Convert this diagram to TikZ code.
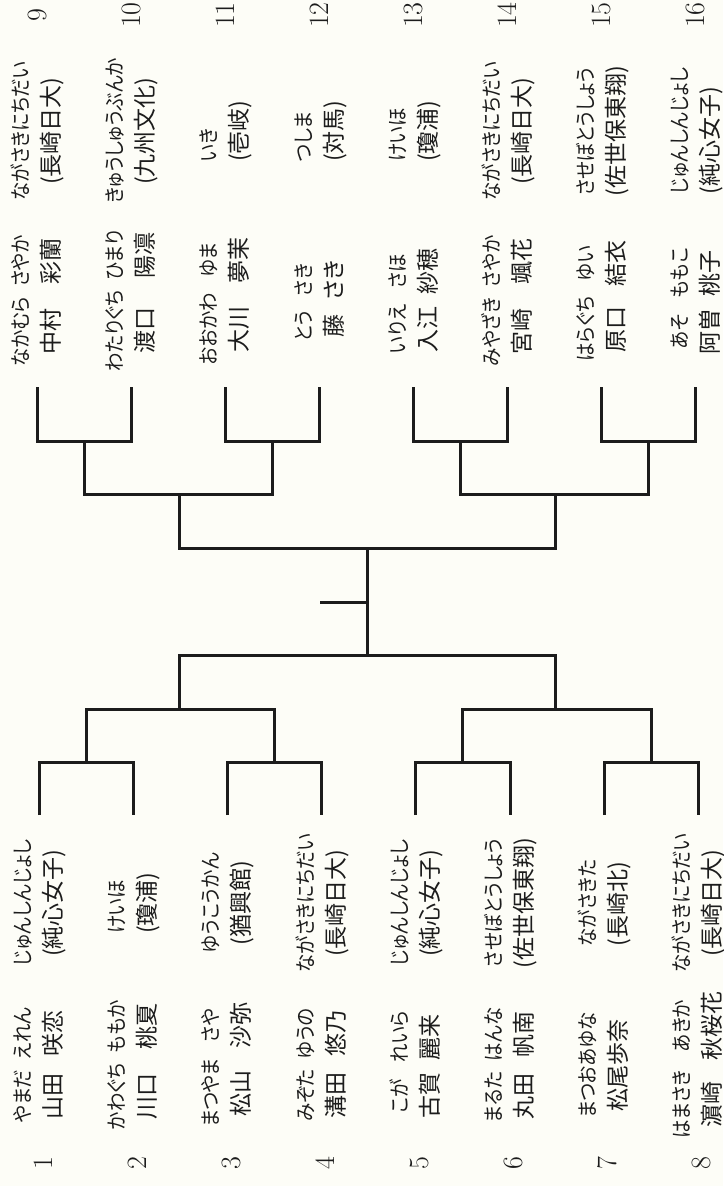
\documentclass[tikz,border=0pt]{standalone}
\usepackage{fontspec}
\usepackage{tikz}
\usetikzlibrary{positioning,calc}
\newfontfamily\jp[RawFeature=+palt]{Noto Sans CJK JP}
\newfontfamily\jpk[RawFeature=+palt,FakeStretch=0.88]{Noto Sans CJK JP}
\definecolor{paper}{RGB}{253,253,247}
\definecolor{ink}{RGB}{28,28,28}
\newcommand{\kj}[1]{{\jp\fontsize{23}{31}\selectfont #1}}
\newcommand{\rb}[3][c]{\begin{tabular}{@{}#1@{}}#2\\\kj{#3}\end{tabular}}
\newcommand{\nm}[4]{\begin{tabular}{@{}c@{\hspace{10pt}}c@{}}#1&#2\\\kj{#3}&\kj{#4}\end{tabular}}

\begin{document}
\begin{tikzpicture}[x=1pt,y=-1pt,node distance=94.1pt,on grid,
  num/.style={rotate=90,inner sep=0pt,text=ink,font=\fontsize{28}{32}\selectfont},
  school/.style={rotate=90,inner sep=0pt,text=ink,font=\jpk\fontsize{21}{31}\selectfont},
  player/.style={rotate=90,inner sep=0pt,text=ink,font=\jpk\fontsize{21}{31}\selectfont},
  bracket/.style={draw=ink,line width=3pt}]
\useasboundingbox (0,0) rectangle (723,1186);
\fill[paper] (0,0) rectangle (723,1186);
% upper half: 9-16
\node[num]                (n9)  at (37,15) {9};
\node[num,right=of n9]    (n10) {10};
\node[num,right=of n10]   (n11) {11};
\node[num,right=of n11]   (n12) {12};
\node[num,right=of n12]   (n13) {13};
\node[num,right=of n13]   (n14) {14};
\node[num,right=of n14]   (n15) {15};
\node[num,right=of n15]   (n16) {16};
%
\node[school]             (s9)  at (38,131) {\rb{ながさきにちだい}{(長崎日大)}};
\node[school,right=of s9]  (s10) {\rb{きゅうしゅうぶんか}{(九州文化)}};
\node[school,right=of s10] (s11) {\rb[l]{いき}{(壱岐)}};
\node[school,right=of s11] (s12) {\rb[l]{つしま}{(対馬)}};
\node[school,right=of s12] (s13) {\rb[l]{けいほ}{(瓊浦)}};
\node[school,right=of s13] (s14) {\rb{ながさきにちだい}{(長崎日大)}};
\node[school,right=of s14] (s15) {\rb[l]{させぼとうしょう}{(佐世保東翔)}};
\node[school,right=of s15] (s16) {\rb[l]{じゅんしんじょし}{(純心女子)}};
%
\node[player]             (p9)  at (38,301) {\nm{なかむら}{さやか}{中村}{彩蘭}};
\node[player,right=of p9]  (p10) {\nm{わたりぐち}{ひまり}{渡口}{陽凛}};
\node[player,right=of p10] (p11) {\nm{おおかわ}{ゆま}{大川}{夢茉}};
\node[player,right=of p11] (p12) {\nm{とう}{さき}{藤}{さき}};
\node[player,right=of p12] (p13) {\nm{いりえ}{さほ}{入江}{紗穂}};
\node[player,right=of p13] (p14) {\nm{みやざき}{さやか}{宮崎}{颯花}};
\node[player,right=of p14] (p15) {\nm{はらぐち}{ゆい}{原口}{結衣}};
\node[player,right=of p15] (p16) {\nm{あそ}{ももこ}{阿曽}{桃子}};
% lower half: 1-8
\node[school]             (s1)  at (40,903) {\rb{じゅんしんじょし}{(純心女子)}};
\node[school,right=of s1]  (s2)  {\rb[l]{けいほ}{(瓊浦)}};
\node[school,right=of s2]  (s3)  {\rb{ゆうこうかん}{(猶興館)}};
\node[school,right=of s3]  (s4)  {\rb{ながさきにちだい}{(長崎日大)}};
\node[school,right=of s4]  (s5)  {\rb{じゅんしんじょし}{(純心女子)}};
\node[school,right=of s5]  (s6)  {\rb{させぼとうしょう}{(佐世保東翔)}};
\node[school,right=of s6]  (s7)  {\rb[l]{ながさきた}{(長崎北)}};
\node[school,right=of s7]  (s8)  {\rb{ながさきにちだい}{(長崎日大)}};
%
\node[player]             (p1)  at (40,1065) {\nm{やまだ}{えれん}{山田}{咲恋}};
\node[player,right=of p1]  (p2)  {\nm{かわぐち}{ももか}{川口}{桃夏}};
\node[player,right=of p2]  (p3)  {\nm{まつやま}{さや}{松山}{沙弥}};
\node[player,right=of p3]  (p4)  {\nm{みぞた}{ゆうの}{溝田}{悠乃}};
\node[player,right=of p4]  (p5)  {\nm{こが}{れいら}{古賀}{麗来}};
\node[player,right=of p5]  (p6)  {\nm{まるた}{はんな}{丸田}{帆南}};
\node[player,right=of p6]  (p7)  {\rb{まつおあゆな}{松尾歩奈}};
\node[player,right=of p7]  (p8)  {\nm{はまさき}{あきか}{濵崎}{秋桜花}};
%
\node[num]                (n1)  at (43,1163) {1};
\node[num,right=of n1]    (n2)  {2};
\node[num,right=of n2]    (n3)  {3};
\node[num,right=of n3]    (n4)  {4};
\node[num,right=of n4]    (n5)  {5};
\node[num,right=of n5]    (n6)  {6};
\node[num,right=of n6]    (n7)  {7};
\node[num,right=of n7]    (n8)  {8};
% bracket points
\coordinate (t9)  at (37,387);  \coordinate (t10) at (131,387);
\coordinate (t11) at (225,387); \coordinate (t12) at (319,387);
\coordinate (t13) at (413,387); \coordinate (t14) at (507,387);
\coordinate (t15) at (601,387); \coordinate (t16) at (695,387);
\coordinate (a1) at (84,441);  \coordinate (a2) at (272,441);
\coordinate (a3) at (460,441); \coordinate (a4) at (648,441);
\coordinate (b1) at (179,494); \coordinate (b2) at (555,494);
\coordinate (f1) at (367,548);
\coordinate (t1) at (39,815);  \coordinate (t2) at (133,815);
\coordinate (t3) at (227,815); \coordinate (t4) at (321,815);
\coordinate (t5) at (415,815); \coordinate (t6) at (510,815);
\coordinate (t7) at (604,815); \coordinate (t8) at (698,815);
\coordinate (c1) at (86,762);  \coordinate (c2) at (274,762);
\coordinate (c3) at (462,762); \coordinate (c4) at (651,762);
\coordinate (d1) at (179,709); \coordinate (d2) at (555,709);
\coordinate (f2) at (367,655);
\coordinate (tick) at (320,602);
%
\draw[bracket] (t9) |- (a1) -| (t10);
\draw[bracket] (t11) |- (a2) -| (t12);
\draw[bracket] (t13) |- (a3) -| (t14);
\draw[bracket] (t15) |- (a4) -| (t16);
\draw[bracket] (a1) |- (b1) -| (a2);
\draw[bracket] (a3) |- (b2) -| (a4);
\draw[bracket] (b1) |- (f1) -| (b2);
\draw[bracket] (f1) -- (f2);
\draw[bracket] (tick) -- (tick -| f1);
\draw[bracket] (d1) |- (f2) -| (d2);
\draw[bracket] (c1) |- (d1) -| (c2);
\draw[bracket] (c3) |- (d2) -| (c4);
\draw[bracket] (t1) |- (c1) -| (t2);
\draw[bracket] (t3) |- (c2) -| (t4);
\draw[bracket] (t5) |- (c3) -| (t6);
\draw[bracket] (t7) |- (c4) -| (t8);
\end{tikzpicture}
\end{document}
